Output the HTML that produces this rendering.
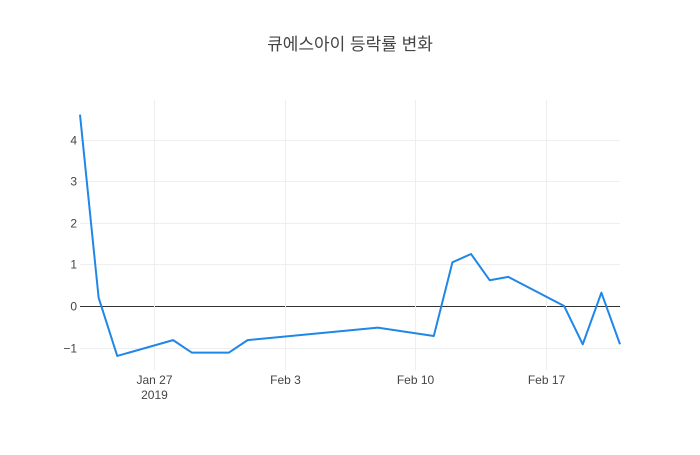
<!DOCTYPE html>
<html><head><meta charset="utf-8"><style>
body{margin:0;background:#fff;}
svg{font-family:"Liberation Sans","Noto Sans CJK KR",sans-serif;}
</style></head><body>
<svg id="c" width="700" height="450">
<rect width="700" height="450" fill="#fff"/>
<text x="350" y="50" text-anchor="middle" font-size="17" fill="#444">큐에스아이 등락률 변화</text>
<g id="grid"></g><g id="axes"></g><g id="series"></g>
</svg>
<script>
const dates=["2019-01-23","2019-01-24","2019-01-25","2019-01-28","2019-01-29","2019-01-30","2019-01-31","2019-02-01","2019-02-08","2019-02-11","2019-02-12","2019-02-13","2019-02-14","2019-02-15","2019-02-18","2019-02-19","2019-02-20","2019-02-21"];
const values=[4.6,0.2,-1.2,-0.82,-1.12,-1.12,-1.12,-0.82,-0.52,-0.72,1.05,1.25,0.62,0.7,0.0,-0.92,0.32,-0.92];
const yTicks=[-1,0,1,2,3,4];
const xTickDates=["2019-01-27","2019-02-03","2019-02-10","2019-02-17"];
const xTickLabels=["Jan 27","Feb 3","Feb 10","Feb 17"];
const NS="http://www.w3.org/2000/svg";
const L=80,R=620,T=100,B=370;
const d0=Date.parse("2019-01-23"),d1=Date.parse("2019-02-21");
function xs(d){return L+(Date.parse(d)-d0)/(d1-d0)*(R-L);}
function ys(v){return 306-v*41.6;}
function mk(tag,attrs,parent){const e=document.createElementNS(NS,tag);for(const k in attrs)e.setAttribute(k,attrs[k]);parent.appendChild(e);return e;}
const grid=document.getElementById('grid'),axes=document.getElementById('axes'),ser=document.getElementById('series');
yTicks.forEach(v=>{
  const y=Math.round(ys(v))+0.5;
  const l=mk('line',{x1:L,x2:R,y1:y,y2:y,stroke:v===0?'#333':'#eee','stroke-width':1},grid);
  
  
  const t=mk('text',{x:L-3,y:y+4,'text-anchor':'end','font-size':12,fill:'#444'},axes);
  t.textContent=v<0?'−'+Math.abs(v):String(v);
  
  
});
xTickDates.forEach((d,i)=>{
  const x=Math.round(xs(d))+0.5;
  const l=mk('line',{x1:x,x2:x,y1:T,y2:B,stroke:'#eee','stroke-width':1},grid);
  
  
  const t=mk('text',{x:x,y:384,'text-anchor':'middle','font-size':12,fill:'#444'},axes);
  t.textContent=xTickLabels[i];
  
  
});
const yr=mk('text',{x:xs(xTickDates[0]),y:399,'text-anchor':'middle','font-size':12,fill:'#444'},axes);
yr.textContent="2019";


const p=mk('polyline',{points:dates.map((d,i)=>xs(d)+','+ys(values[i])).join(' '),fill:'none',stroke:'#1f87e8','stroke-width':2,'stroke-linejoin':'round'},ser);


</script>
</body></html>
